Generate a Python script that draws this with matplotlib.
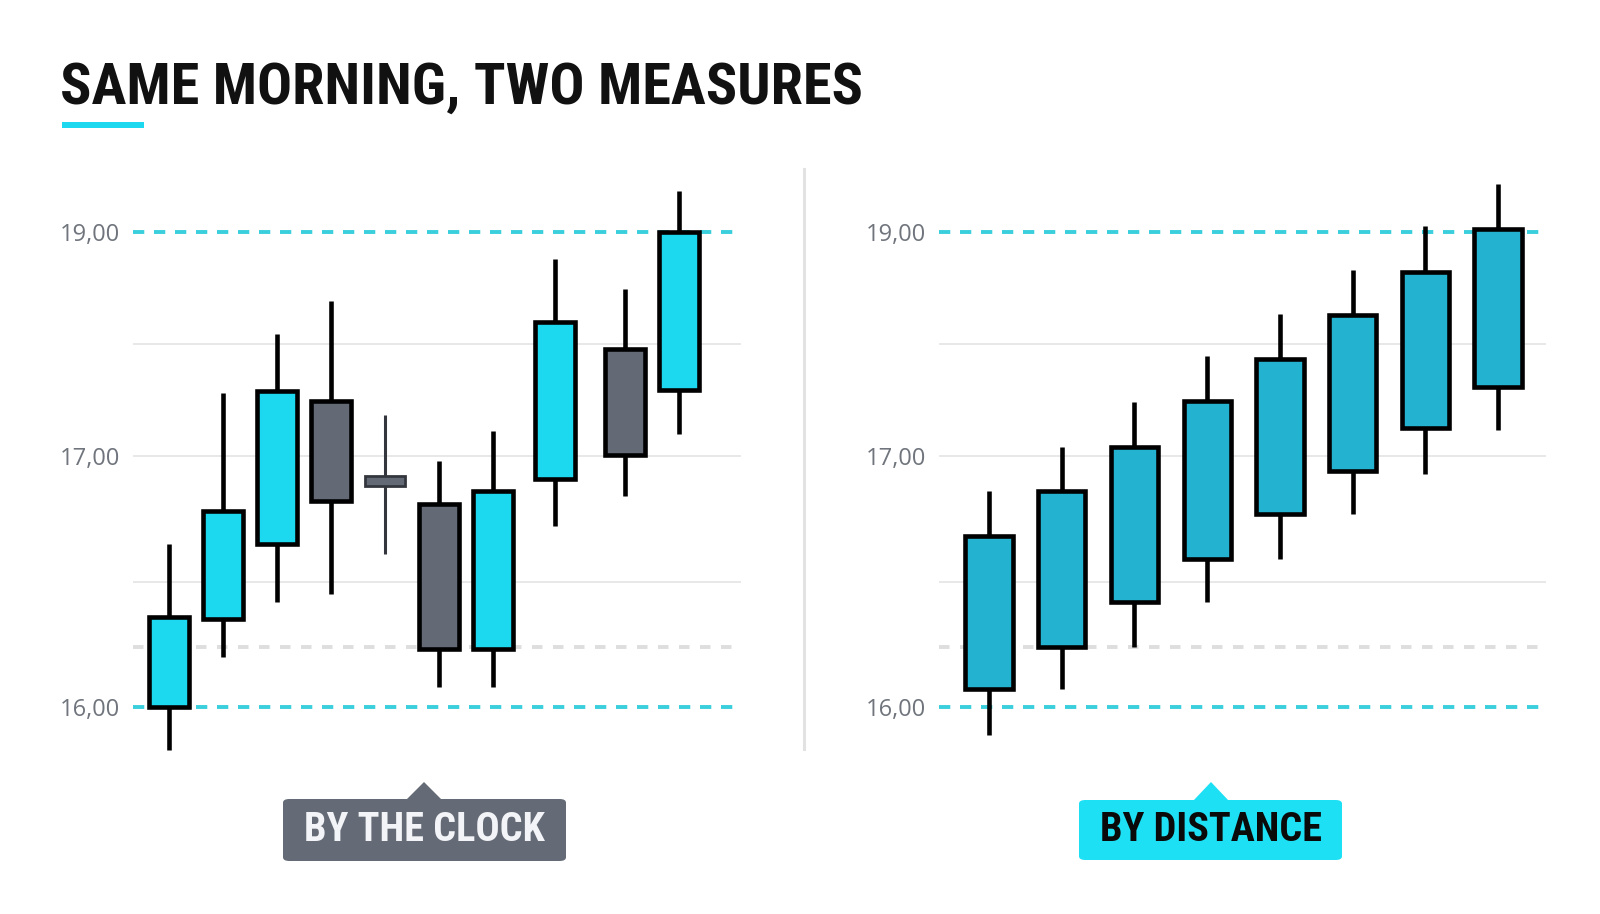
import numpy as np
import matplotlib
matplotlib.use("Agg")
import matplotlib.pyplot as plt
from matplotlib import font_manager
from matplotlib.patches import FancyBboxPatch, Polygon
from matplotlib.lines import Line2D

# candles "by the clock" (left panel)
clock_x = [0, 1, 2, 3, 4, 5, 6, 7.15, 8.45, 9.45]
clock_open = [16.00, 16.35, 16.65, 17.49, 16.91, 16.81, 16.23, 16.91, 17.96, 17.59]
clock_close = [16.36, 16.78, 17.58, 16.82, 16.89, 16.23, 16.86, 18.20, 17.01, 19.00]
clock_high = [16.65, 17.56, 18.09, 18.38, 17.37, 16.98, 17.22, 18.76, 18.49, 19.37]
clock_low = [15.83, 16.20, 16.42, 16.45, 16.61, 16.08, 16.08, 16.72, 16.84, 17.20]

# candles "by distance" (right panel)
dist_x = [0, 1, 2, 3, 4, 5, 6, 7]
dist_open = [16.07, 16.24, 16.42, 16.59, 16.77, 16.94, 17.25, 17.62]
dist_close = [16.68, 16.86, 17.08, 17.49, 17.87, 18.26, 18.64, 19.03]
dist_high = [16.86, 17.08, 17.48, 17.89, 18.27, 18.66, 19.05, 19.43]
dist_low = [15.89, 16.07, 16.24, 16.42, 16.59, 16.77, 16.93, 17.23]

tick_vals = [16, 17, 19]
tick_labels = ["16,00", "17,00", "19,00"]
grid_vals = [16.5, 17, 18]
band_vals = [16, 19]
ref_val = 16.24

CYAN = "#1DD9F0"
TEAL = "#23B2D0"
GRAY = "#636975"
BAND = "#3ACFDC"

avail = {f.name for f in font_manager.fontManager.ttflist}
cond = [f for f in ["Roboto Condensed", "Roboto"] if f in avail] + ["DejaVu Sans"]
tick_font = [f for f in ["Open Sans", "Noto Sans"] if f in avail] + ["DejaVu Sans"]


# the picture's value axis is stretched below 17,00
def fwd(v):
    v = np.asarray(v, dtype=float)
    return np.where(v < 17, (v - 16) * 251.0, 251.0 + (v - 17) * 112.0)


def inv(p):
    p = np.asarray(p, dtype=float)
    return np.where(p < 251, 16 + p / 251.0, 17 + (p - 251.0) / 112.0)


W, H = 1600, 914
fig = plt.figure(figsize=(16, 9.14), dpi=100)
fig.patch.set_facecolor("white")


def fx(px):
    return px / W


def fy(py):
    return 1 - py / H


def panel(x0, x1, xs, o, c, h, l, width, xlim, colors):
    ax = fig.add_axes([fx(x0), fy(760), fx(x1 - x0), (760 - 170) / H])
    ax.set_yscale("function", functions=(fwd, inv))
    ax.set_ylim(15.789, 19.554)
    ax.set_xlim(*xlim)
    for s in ax.spines.values():
        s.set_visible(False)
    ax.set_xticks([])
    ax.set_yticks(tick_vals)
    ax.set_yticklabels(tick_labels, family=tick_font, fontsize=17, color="#70757D")
    ax.tick_params(axis="y", length=0, pad=9)
    for g in grid_vals:
        ax.axhline(g, color="#E6E6E6", lw=1.3, zorder=0)
    ax.axhline(ref_val, color="#DEDEDE", lw=2.8, ls=(0, (2.7, 2.7)), zorder=1)
    for b in band_vals:
        ax.axhline(b, color=BAND, lw=2.8, ls=(0, (2.9, 2.5)), zorder=1)
    for i in range(len(xs)):
        doji = abs(c[i] - o[i]) < 0.05
        edge = "#33373D" if doji else "black"
        ax.vlines(xs[i], l[i], h[i], color=edge, lw=2.2 if doji else 3.3, zorder=2)
        lo, hi = min(o[i], c[i]), max(o[i], c[i])
        if doji:
            lo, hi = lo - 0.01, hi + 0.01
        ax.bar(xs[i], hi - lo, bottom=lo, width=width, color=colors[i],
               edgecolor=edge, linewidth=2.0 if doji else 3.3, zorder=3)
    return ax


clock_colors = [CYAN if c > o else GRAY for o, c in zip(clock_open, clock_close)]
panel(133, 741, clock_x, clock_open, clock_close, clock_high, clock_low,
      0.74, (-0.667, 10.59), clock_colors)
panel(939, 1546, dist_x, dist_open, dist_close, dist_high, dist_low,
      0.65, (-0.688, 7.66), [TEAL] * len(dist_x))

# separator
fig.add_artist(Line2D([fx(804), fx(804)], [fy(169), fy(749)], color="#E2E2E2", lw=2.2))

# title and underline
fig.text(fx(60), fy(104), "SAME MORNING, TWO MEASURES", family=cond, weight="bold",
         fontsize=42, color="#111111", va="baseline", ha="left")
fig.add_artist(FancyBboxPatch((fx(62), fy(128)), fx(82), 6 / H, boxstyle="square,pad=0",
                              fc=CYAN, ec="none", transform=fig.transFigure))


def tag(x0, x1, y0, y1, apex, label, fc, tc):
    fig.add_artist(FancyBboxPatch((fx(x0), fy(y1)), fx(x1 - x0), (y1 - y0) / H,
                                  boxstyle="round,pad=0,rounding_size=0.004",
                                  fc=fc, ec="none", transform=fig.transFigure))
    fig.add_artist(Polygon([[fx(apex - 18), fy(y0 + 1)], [fx(apex), fy(782)],
                            [fx(apex + 18), fy(y0 + 1)]], closed=True,
                           fc=fc, ec="none", transform=fig.transFigure))
    fig.text(fx((x0 + x1) / 2), fy((y0 + y1) / 2), label, family=cond, weight="bold",
             fontsize=29, color=tc, ha="center", va="center")


tag(283, 566, 799, 861, 424, "BY THE CLOCK", "#656B76", "#F2F4F7")
tag(1079, 1342, 800, 860, 1211, "BY DISTANCE", "#1EE0F5", "#0A0A0A")

fig.savefig("out.png", dpi=100, facecolor="white")
